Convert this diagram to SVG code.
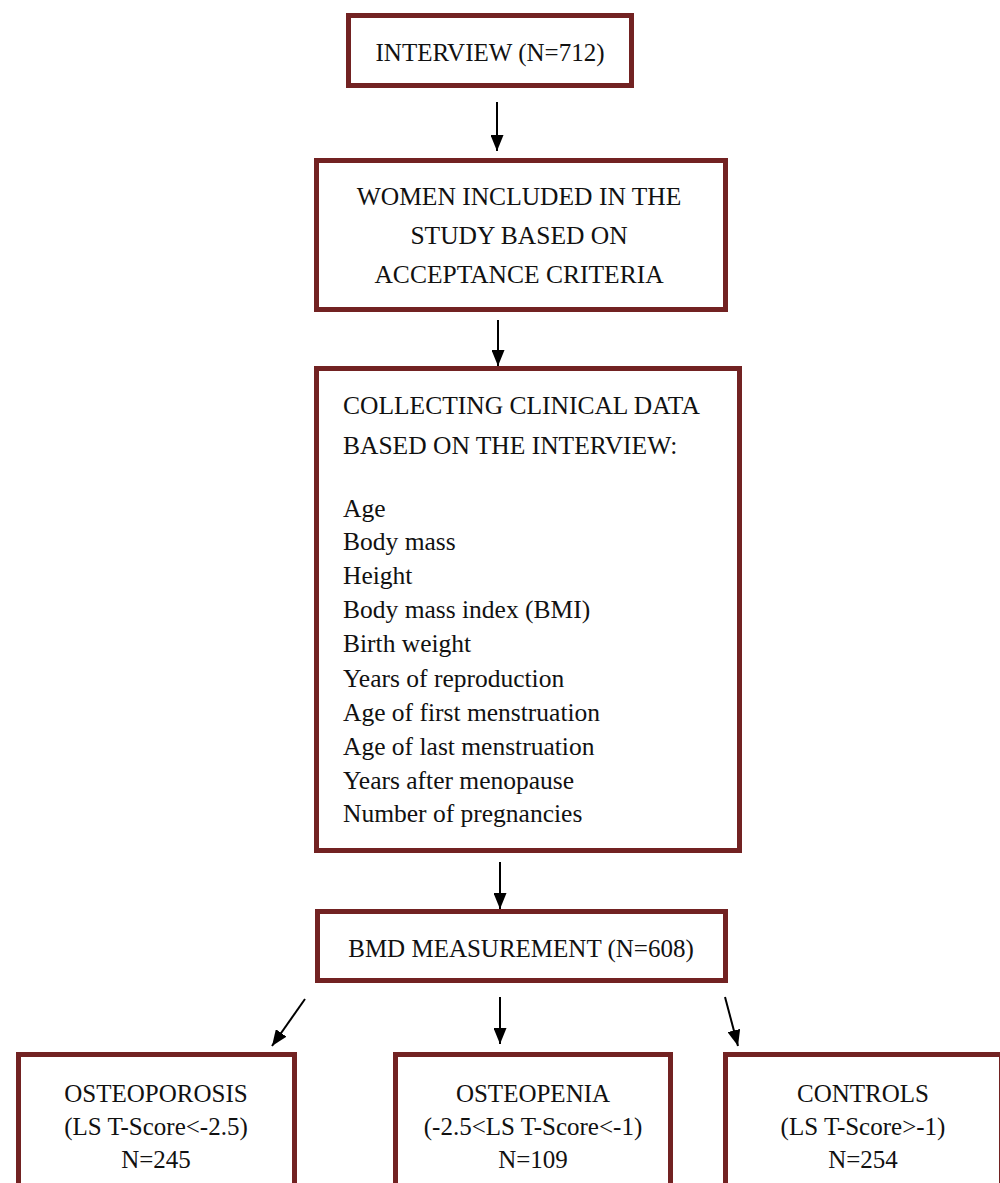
<svg xmlns="http://www.w3.org/2000/svg" width="1000" height="1183" viewBox="0 0 1000 1183">
<defs>
<style>
.box{fill:#fff;stroke:#722222;stroke-width:5}
.t{font-family:"Liberation Serif","DejaVu Serif",serif;font-size:25.5px;fill:#111}
.s{font-size:25px}
.c{text-anchor:middle}
.con line{stroke:#000;stroke-width:2;marker-end:url(#ah)}
</style>
<marker id="ah" viewBox="0 0 16 13" refX="16" refY="6.5" markerWidth="16" markerHeight="13" markerUnits="userSpaceOnUse" orient="auto"><path d="M0,0 L16,6.5 L0,13 z" fill="#000"/></marker>
</defs>
<rect width="1000" height="1183" fill="#fff"/>
<g id="n1"><rect class="box" x="348.5" y="15.5" width="283" height="70"/>
<text class="t s c" x="490" y="61">INTERVIEW (N=712)</text></g>
<g id="n2"><rect class="box" x="316.5" y="160.5" width="409" height="149"/>
<text class="t c" x="519" y="205">WOMEN INCLUDED IN THE</text>
<text class="t c" x="519" y="244">STUDY BASED ON</text>
<text class="t c" x="519" y="283">ACCEPTANCE CRITERIA</text></g>
<g id="n3"><rect class="box" x="316.5" y="368.5" width="423" height="482"/>
<text class="t" x="343" y="414">COLLECTING CLINICAL DATA</text>
<text class="t" x="343" y="454">BASED ON THE INTERVIEW:</text>
<text class="t" x="343" y="517">Age</text>
<text class="t" x="343" y="550">Body mass</text>
<text class="t" x="343" y="584">Height</text>
<text class="t" x="343" y="618">Body mass index (BMI)</text>
<text class="t" x="343" y="652">Birth weight</text>
<text class="t" x="343" y="687">Years of reproduction</text>
<text class="t" x="343" y="721">Age of first menstruation</text>
<text class="t" x="343" y="755">Age of last menstruation</text>
<text class="t" x="343" y="789">Years after menopause</text>
<text class="t" x="343" y="822">Number of pregnancies</text></g>
<g id="n4"><rect class="box" x="317.5" y="911.5" width="408" height="69"/>
<text class="t s c" x="521" y="957">BMD MEASUREMENT (N=608)</text></g>
<g id="n5"><rect class="box" x="18.5" y="1054.5" width="276" height="140"/>
<text class="t s c" x="156" y="1102">OSTEOPOROSIS</text>
<text class="t s c" x="156" y="1135">(LS T-Score&lt;-2.5)</text>
<text class="t s c" x="156" y="1168">N=245</text></g>
<g id="n6"><rect class="box" x="395.5" y="1054.5" width="275" height="140"/>
<text class="t s c" x="533" y="1102">OSTEOPENIA</text>
<text class="t s c" x="533" y="1135">(-2.5&lt;LS T-Score&lt;-1)</text>
<text class="t s c" x="533" y="1168">N=109</text></g>
<g id="n7"><rect class="box" x="725.5" y="1054.5" width="276" height="140"/>
<text class="t s c" x="863" y="1102">CONTROLS</text>
<text class="t s c" x="863" y="1135">(LS T-Score&gt;-1)</text>
<text class="t s c" x="863" y="1168">N=254</text></g>
<g class="con" id="connectors">
<line x1="497" y1="102" x2="497" y2="151"/>
<line x1="498" y1="320" x2="498" y2="366"/>
<line x1="500" y1="862" x2="500" y2="909"/>
<line x1="305" y1="999" x2="272" y2="1046"/>
<line x1="500" y1="997" x2="500" y2="1044"/>
<line x1="725" y1="997" x2="738" y2="1046"/>
</g>
</svg>
